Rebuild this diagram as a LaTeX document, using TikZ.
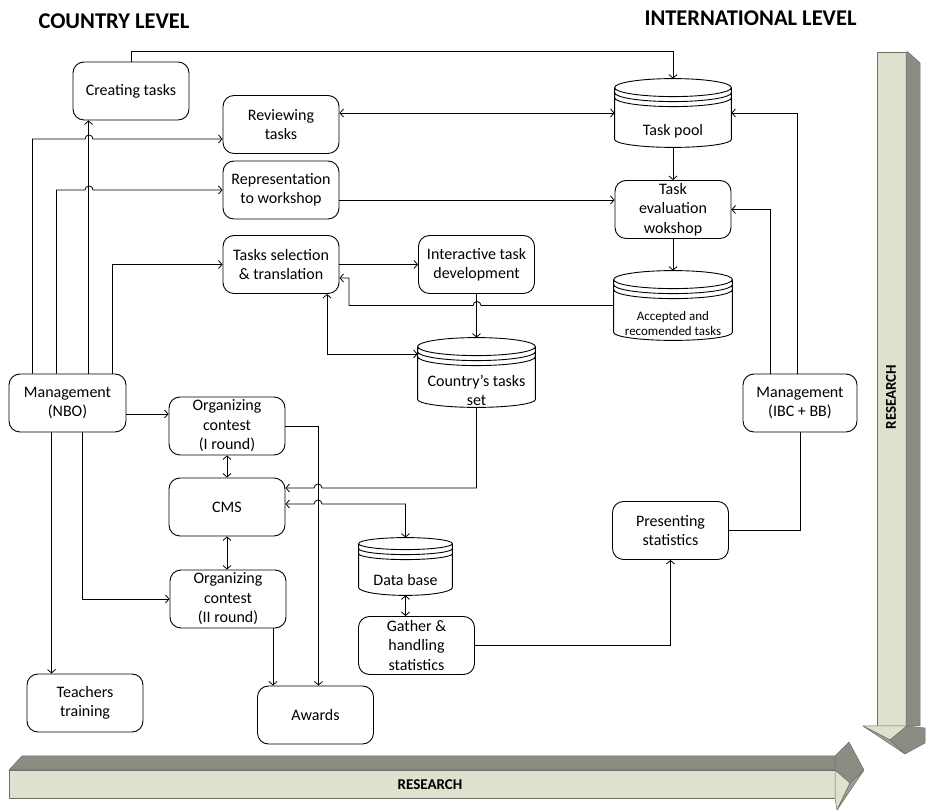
\documentclass[tikz,border=0pt]{standalone}
\usepackage{fontspec}
\setmainfont{Carlito}
\usetikzlibrary{arrows.meta,calc}
\definecolor{researchLight}{HTML}{DFE0CE}
\definecolor{researchDark}{HTML}{8B8D82}
\definecolor{researchEdge}{HTML}{6E7069}
\newcommand{\bodyfont}{\fontsize{16}{19.5}\selectfont}

\begin{document}
\begin{tikzpicture}[x=1pt,y=1pt,line width=0.8pt,>={Straight Barb[length=3.5pt,width=8pt]},
  box/.style={draw,line width=0.9pt,rounded corners=11pt,minimum width=116,minimum height=58,inner sep=0pt,align=center,font=\bodyfont},
  db/.style={inner sep=0pt},
  dbtext/.style={align=center,font=\bodyfont,inner sep=0pt},
  hdr/.style={font=\fontsize{22.5}{26}\selectfont\bfseries},
  research/.style={fill=researchLight,draw=researchEdge,line width=0.5pt,line join=round}]
  \useasboundingbox (0,0) rectangle (926,811);
  \node[hdr] (countryhdr) at (114,790) {COUNTRY LEVEL};
  \node[hdr] (intlhdr) at (750.5,793) {INTERNATIONAL LEVEL};

  \node[box] (create) at (131,720) {Creating tasks};
  \node[box] (review) at (281,686.5) {Reviewing\\tasks};
  \node[box] (repr) at (281,621) {Representation\\to workshop};
  \node[box] (select) at (281,546.5) {Tasks selection\\\& translation};
  \node[box] (interact) at (476.5,546.5) {Interactive task\\development};
  \node[box] (evalw) at (673,601.5) {Task\\evaluation\\wokshop};
  \node[box,minimum width=117] (mgmtN) at (67.5,408) {Management\\(NBO)};
  \node[box,minimum width=114] (mgmtI) at (800,408) {Management\\(IBC + BB)};
  \node[box] (orgI) at (227,385) {Organizing\\contest\\(I round)};
  \node[box] (cms) at (227,304) {CMS};
  \node[box] (orgII) at (228,212) {Organizing\\contest\\(II round)};
  \node[box] (teach) at (85,108) {Teachers\\training};
  \node[box] (awards) at (315.5,96) {Awards};
  \node[box] (gather) at (416.5,165.5) {Gather \&\\handling\\statistics};
  \node[box] (present) at (670.5,280.5) {Presenting\\statistics};

  \node[db,minimum width=116,minimum height=68] (pool) at (673,698) {};
  \node[db,minimum width=118,minimum height=69] (accepted) at (673,505.5) {};
  \node[db,minimum width=117,minimum height=69] (country) at (476.5,438.5) {};
  \node[db,minimum width=93,minimum height=57] (dbase) at (405.5,244.5) {};
  \foreach \cyl/\ry in {pool/9,accepted/9,country/9,dbase/6}
    \draw[line width=0.9pt] let \p1=(\cyl.north west), \p2=(\cyl.south east), \n1={(\x2-\x1)/2} in
      (\x1,\y1-\ry) arc[start angle=180,end angle=-180,x radius=\n1,y radius=\ry pt]
      (\x1,\y1-\ry-5) arc[start angle=180,end angle=360,x radius=\n1,y radius=\ry pt]
      (\x1,\y1-\ry-10) arc[start angle=180,end angle=360,x radius=\n1,y radius=\ry pt]
      (\x1,\y1-\ry) -- (\x1,\y2+8) arc[start angle=180,end angle=360,x radius=\n1,y radius=8pt] -- (\x2,\y1-\ry);
  \node[dbtext] (poolt) at ([yshift=-18]pool.center) {Task pool};
  \node[dbtext,font=\fontsize{13}{15}\selectfont] (acceptedt) at ([yshift=-18]accepted.center) {Accepted and\\recomended tasks};
  \node[dbtext] (countryt) at ([yshift=-18]country.center) {Country's tasks\\set};
  \node[dbtext] (dbaset) at ([yshift=-14]dbase.center) {Data base};

  \draw[->] (create.north) -- ++(0,10) -| (pool.north);
  \draw[<->] (pool.west) -- (pool.west -| review.east);
  \draw[->] ([xshift=24]mgmtN.north west) |- (85,672) arc[start angle=180,end angle=0,radius=4pt] -- ([yshift=-14.5]review.west);
  \draw[->] ([xshift=48]mgmtN.north west) |- (85,621) arc[start angle=180,end angle=0,radius=4pt] -- (repr.west);
  \draw[->] ([xshift=80]mgmtN.north west) -- ([xshift=16]create.south west);
  \draw[->] ([xshift=104]mgmtN.north west) |- (select.west);
  \draw[->] ([yshift=-11]mgmtN.east) -- ([yshift=12]orgI.west);
  \draw[->] ([xshift=43]mgmtN.south west) -- ([xshift=25]teach.north west);
  \draw[->] ([xshift=74]mgmtN.south west) |- (orgII.west);
  \draw[<->] (orgI.south) -- (cms.north);
  \draw[<->] (cms.south) -- (cms.south |- orgII.north);
  \draw[->] (orgI.east) -| ([xshift=3]awards.north);
  \draw[->] ([xshift=45]orgII.south) -- ([xshift=-42.5]awards.north);
  \draw[->] (country.south) |- (322,323) arc[start angle=0,end angle=180,radius=4pt] -- ([yshift=19]cms.east);
  \draw[<->] ([yshift=3]cms.east) -- (314,307) arc[start angle=180,end angle=0,radius=4pt] -| (dbase.north);
  \draw[<->] (dbase.south) -- (dbase.south |- gather.north);
  \draw[->] (gather.east) -| (present.south);
  \draw (present.east) -| (mgmtI.south);
  \draw[->] ([xshift=-3]mgmtI.north) |- (pool.east);
  \draw[->] ([xshift=-30]mgmtI.north) |- (evalw.east);
  \draw[->] (pool.south) -- (evalw.north);
  \draw[->] (evalw.south) -- (accepted.north);
  \draw[->] ([yshift=-10]repr.east) -- ([yshift=9.5]evalw.west);
  \draw[->] (accepted.west) -- (481,505.5) arc[start angle=0,end angle=180,radius=4pt] -- (349,505.5) |- ([yshift=-13.5]select.east);
  \draw[->] (select.east) -- (interact.west);
  \draw[->] (interact.south) -- (country.north);
  \draw[<->] ([yshift=18.5]country.west) -| ([xshift=46]select.south);

  \filldraw[research,fill=researchDark] (9,41) -- (22,55) -- (835,55) -- (835,41) -- cycle;
  \filldraw[research] (9,13) rectangle (835,41);
  \filldraw[research,fill=researchDark] (835,55) -- (849,69) -- (864,41) -- (850,28) -- (835,41) -- cycle;
  \filldraw[research] (835,41) -- (850,28) -- (837,1) -- (835,13) -- cycle;
  \filldraw[research,fill=researchDark!85] (850,28) -- (864,41) -- (837,1) -- cycle;
  \filldraw[research] (877,759) rectangle (906,85);
  \filldraw[research,fill=researchDark] (906,759) -- (908,759) -- (920,748) -- (920,85) -- (906,85) -- cycle;
  \filldraw[research] (863,85) -- (907,85) -- (890,71) -- cycle;
  \filldraw[research,fill=researchDark] (890,71) -- (907,85) -- (925,83) -- (925,68) -- (905,57) -- cycle;
  \filldraw[research,fill=researchDark!85] (863,85) -- (890,71) -- (905,57) -- cycle;
  \node[font=\fontsize{15}{18}\selectfont\bfseries] (resh) at (430,26) {RESEARCH};
  \node[font=\fontsize{15}{18}\selectfont\bfseries,rotate=90] (resv) at (891,414) {RESEARCH};
\end{tikzpicture}
\end{document}
